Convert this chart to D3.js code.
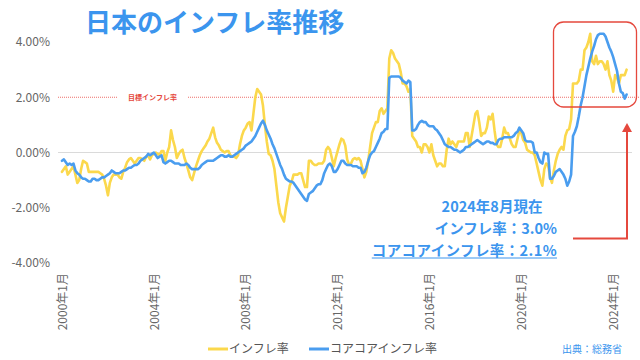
<!DOCTYPE html>
<html><head><meta charset="utf-8">
<script src="https://cdn.jsdelivr.net/npm/d3@7"></script>
<style>
html,body{margin:0;padding:0;background:#fff;}
svg{display:block;font-family:"Noto Sans CJK JP","Noto Sans",sans-serif;}
</style></head><body>
<svg id="chart" width="640" height="360"></svg>
<script>
// ---------- data ----------
const title = "日本のインフレ率推移";
const seriesNames = ["インフレ率", "コアコアインフレ率"];
const seriesColors = ["#FBD84C", "#4A9DEF"];
const startYear = 2000;
const monthCount = 296; // 2000年1月 〜 2024年8月
const categories = d3.range(monthCount).map(i =>
  `${startYear + Math.floor(i / 12)}-${String(i % 12 + 1).padStart(2, "0")}`);

// 総合 (headline), one row per year
const headline = [
  -0.7,-0.6,-0.5,-0.8,-0.7,-0.6,-0.5,-0.8,-1.1,-1.0,-0.6,-0.3,      // 2000
  -0.35,-0.4,-0.7,-0.7,-0.7,-0.7,-0.7,-0.7,-0.75,-0.8,-0.95,-1.2,   // 2001
  -1.55,-1.1,-0.9,-0.8,-0.8,-0.8,-0.9,-0.95,-0.7,-0.55,-0.35,-0.25, // 2002
  -0.2,-0.3,-0.4,-0.3,-0.2,-0.2,-0.25,-0.3,-0.15,-0.1,-0.25,-0.1,   // 2003
  -0.05,0.0,-0.05,-0.1,0.05,0.05,-0.3,0.0,0.2,0.8,0.45,0.2,         // 2004
  -0.2,-0.05,0.05,0.1,-0.2,-0.4,-0.65,-0.9,-1.0,-0.75,-0.5,-0.3,    // 2005
  -0.1,0.05,0.15,0.25,0.4,0.5,0.7,0.9,0.55,0.35,0.25,0.1,           // 2006
  0.05,0.0,0.05,0.05,-0.1,-0.15,-0.15,-0.2,-0.1,0.3,0.6,0.8,        // 2007
  0.9,1.05,1.1,0.8,1.4,2.0,2.3,2.2,2.1,1.7,1.0,0.4,                 // 2008
  -0.05,-0.1,-0.3,-0.6,-1.2,-1.8,-2.2,-2.35,-2.5,-2.0,-1.6,-1.2,    // 2009
  -1.05,-0.8,-0.8,-0.8,-0.75,-0.75,-1.0,-1.25,-1.25,-0.3,-0.3,-0.4, // 2010
  -0.45,-0.45,-0.4,-0.4,-0.4,-0.3,0.1,0.2,0.1,-0.2,-0.5,-0.2,       // 2011
  0.05,0.3,0.5,0.45,0.25,-0.25,-0.45,-0.4,-0.25,-0.2,-0.25,-0.2,    // 2012
  -0.3,-0.6,-0.9,-0.7,-0.3,0.2,0.7,0.9,1.1,1.1,1.5,1.6,             // 2013
  1.4,1.5,1.6,3.4,3.7,3.6,3.4,3.3,3.2,2.9,2.5,2.5,                  // 2014
  2.4,2.2,2.3,0.6,0.5,0.4,0.2,0.2,0.0,0.3,0.3,0.2,                  // 2015
  0.0,0.3,-0.1,-0.3,-0.5,-0.4,-0.4,-0.5,-0.5,0.1,0.5,0.3,           // 2016
  0.4,0.3,0.2,0.4,0.4,0.4,0.4,0.7,0.7,0.2,0.6,1.0,                  // 2017
  1.4,1.5,1.1,0.6,0.7,0.7,0.9,1.3,1.2,1.4,0.8,0.3,                  // 2018
  0.2,0.2,0.5,0.9,0.7,0.7,0.5,0.3,0.2,0.2,0.5,0.8,                  // 2019
  0.7,0.45,0.35,0.1,0.05,0.0,0.0,-0.1,-0.4,-0.7,-1.0,-1.2,          // 2020
  -0.6,-0.4,-0.45,-0.9,-1.1,-0.65,-0.3,-0.05,0.1,0.2,0.1,0.6,       // 2021
  0.8,0.85,1.2,2.5,2.5,2.5,2.6,3.0,3.0,3.7,3.8,4.0,                 // 2022
  4.3,3.3,3.2,3.5,3.2,3.3,3.3,3.2,3.0,3.3,2.8,2.6,                  // 2023
  2.2,2.8,2.7,2.5,2.8,2.8,2.8,3.0                                   // 2024
];

// コアコア (core-core), one row per year
const coreCore = [
  -0.3,-0.25,-0.35,-0.45,-0.4,-0.45,-0.4,-0.65,-0.75,-0.8,-0.9,-0.95,   // 2000
  -0.95,-1.0,-1.05,-1.05,-0.95,-0.95,-1.0,-1.0,-0.95,-0.9,-0.9,-0.85,   // 2001
  -0.8,-0.75,-0.65,-0.7,-0.75,-0.75,-0.75,-0.7,-0.65,-0.65,-0.6,-0.55,  // 2002
  -0.55,-0.5,-0.45,-0.45,-0.4,-0.3,-0.25,-0.2,-0.15,-0.05,-0.1,-0.05,   // 2003
  0.0,-0.1,-0.2,-0.15,-0.1,-0.35,-0.4,-0.35,-0.3,-0.3,-0.35,-0.4,       // 2004
  -0.4,-0.4,-0.45,-0.45,-0.45,-0.4,-0.45,-0.55,-0.6,-0.6,-0.6,-0.6,     // 2005
  -0.55,-0.45,-0.4,-0.35,-0.3,-0.3,-0.3,-0.3,-0.25,-0.2,-0.15,-0.1,     // 2006
  -0.1,-0.15,-0.15,-0.1,-0.15,-0.15,-0.1,-0.05,0.0,0.05,0.1,0.15,       // 2007
  0.25,0.3,0.35,0.4,0.5,0.6,0.75,0.9,1.05,1.15,1.0,0.8,                 // 2008
  0.65,0.5,0.3,0.15,-0.05,-0.25,-0.45,-0.6,-0.8,-0.95,-1.0,-1.05,       // 2009
  -1.05,-1.1,-1.2,-1.3,-1.4,-1.5,-1.6,-1.7,-1.75,-1.5,-1.45,-1.4,       // 2010
  -1.3,-1.2,-1.15,-1.15,-1.0,-0.75,-0.6,-0.45,-0.4,-0.5,-0.7,-0.7,      // 2011
  -0.6,-0.45,-0.3,-0.3,-0.4,-0.45,-0.45,-0.45,-0.5,-0.5,-0.5,-0.55,     // 2012
  -0.55,-0.75,-0.7,-0.55,-0.3,-0.1,0.0,0.05,0.2,0.35,0.5,0.7,           // 2013
  0.75,0.85,0.85,2.7,2.75,2.75,2.75,2.75,2.75,2.7,2.6,2.55,             // 2014
  2.5,2.6,2.55,0.8,0.8,0.85,1.0,1.1,1.15,1.1,1.1,1.0,                   // 2015
  0.95,0.95,0.95,0.85,0.8,0.7,0.6,0.45,0.3,0.25,0.2,0.2,                // 2016
  0.15,0.1,0.1,0.05,0.0,0.05,0.1,0.2,0.2,0.25,0.3,0.35,                 // 2017
  0.4,0.45,0.4,0.35,0.3,0.35,0.4,0.4,0.35,0.35,0.3,0.3,                 // 2018
  0.45,0.5,0.5,0.55,0.55,0.55,0.55,0.55,0.6,0.7,0.75,0.9,               // 2019
  0.8,0.7,0.45,0.4,0.4,0.4,0.35,0.0,0.0,-0.2,-0.35,-0.4,                // 2020
  0.0,-0.05,-0.05,-0.95,-0.95,-0.85,-0.7,-0.65,-0.6,-0.7,-0.8,-0.95,    // 2021
  -1.2,-1.05,-0.8,0.6,0.75,0.95,1.3,1.7,2.0,2.4,2.8,3.1,                // 2022
  3.4,3.65,3.85,4.1,4.25,4.3,4.3,4.3,4.2,4.0,3.8,3.65,                  // 2023
  3.45,3.2,2.95,2.5,2.2,2.15,1.95,2.1                                   // 2024
];

const yTicks = [-4, -2, 0, 2, 4];
const xTickCategories = ["2000-01","2004-01","2008-01","2012-01","2016-01","2020-01","2024-01"];
const xTickLabels = ["2000年1月","2004年1月","2008年1月","2012年1月","2016年1月","2020年1月","2024年1月"];
const targetRate = 2;
const targetLabel = "目標インフレ率";
const noteLines = ["2024年8月現在", "インフレ率：3.0%", "コアコアインフレ率：2.1%"];
const sourceText = "出典：総務省";

// ---------- drawing ----------
const svg = d3.select("#chart");
const blue = "#3B95EE";
const red = "#E5483D";

const x = d3.scalePoint().domain(categories).range([62, 626.6]);
const y = d3.scaleLinear().domain([-4, 4]).range([263, 42]);

// title
svg.append("text").attr("x", 85).attr("y", 31.5)
  .attr("font-size", 26).attr("font-weight", 700).attr("fill", blue)
  .text(title);

// zero line
svg.append("line").attr("x1", 58).attr("x2", 632)
  .attr("y1", y(0)).attr("y2", y(0))
  .attr("stroke", "#DADADA").attr("stroke-width", 1);

// target line
svg.append("line").attr("x1", 58).attr("x2", 640)
  .attr("y1", y(targetRate)).attr("y2", y(targetRate))
  .attr("stroke", "#EE6F6A").attr("stroke-width", 1)
  .attr("stroke-dasharray", "1,1");
svg.append("rect").attr("x", 118).attr("y", y(targetRate) - 5)
  .attr("width", 69).attr("height", 10).attr("fill", "#fff");
svg.append("text").attr("x", 152.5).attr("y", y(targetRate))
  .attr("dy", "0.35em").attr("text-anchor", "middle")
  .attr("font-size", 7).attr("font-weight", 700).attr("fill", red)
  .text(targetLabel);

// y axis
const yAxis = svg.append("g").attr("transform", "translate(52,0)")
  .call(d3.axisLeft(y).tickValues(yTicks)
    .tickFormat(d => d.toFixed(2) + "%").tickSize(0).tickPadding(2));
yAxis.select(".domain").remove();
yAxis.selectAll("text").attr("fill", "#666").attr("font-size", 12)
  .attr("font-family", "'Noto Sans CJK JP', sans-serif");

// x axis
const xAxis = svg.append("g").attr("transform", "translate(0,270)")
  .call(d3.axisBottom(x).tickValues(xTickCategories)
    .tickFormat((d, i) => xTickLabels[i]).tickSize(0));
xAxis.select(".domain").remove();
xAxis.selectAll("text")
  .attr("transform", "rotate(-90)")
  .attr("x", -3).attr("y", 0).attr("dy", "0.35em")
  .style("text-anchor", "end")
  .attr("fill", "#666").attr("font-size", 12)
  .attr("font-family", "'Noto Sans CJK JP', sans-serif");

// lines
const line = d3.line()
  .x((d, i) => x(categories[i]))
  .y(d => y(d));
[headline, coreCore].forEach((s, k) => {
  svg.append("path").datum(s)
    .attr("d", line)
    .attr("fill", "none")
    .attr("stroke", seriesColors[k])
    .attr("stroke-width", 2.6)
    .attr("stroke-linejoin", "round")
    .attr("stroke-linecap", "round");
});

// highlight box
svg.append("rect").attr("x", 553.5).attr("y", 22).attr("width", 83)
  .attr("height", 85).attr("rx", 10).attr("ry", 10)
  .attr("fill", "none").attr("stroke", red).attr("stroke-width", 1.3);

// arrow
svg.append("path")
  .attr("d", "M573,238.5 H627 V131")
  .attr("fill", "none").attr("stroke", red).attr("stroke-width", 2);
svg.append("path")
  .attr("d", "M627,123 L622,132 L632,132 Z")
  .attr("fill", red);

// note
const note = svg.append("g").attr("font-weight", 700).attr("fill", blue).attr("font-size", 14.5);
note.append("text").attr("x", 492).attr("y", 212).attr("text-anchor", "middle").text(noteLines[0]);
note.append("text").attr("x", 557).attr("y", 234).attr("text-anchor", "end").text(noteLines[1]);
const t3 = note.append("text").attr("x", 557).attr("y", 255.5).attr("text-anchor", "end")
  .attr("letter-spacing", 0.4).text(noteLines[2]);
const bb = t3.node().getBBox();
note.append("line").attr("x1", bb.x).attr("x2", 557)
  .attr("y1", 258).attr("y2", 258).attr("stroke", blue).attr("stroke-width", 1);

// legend
const legendItems = [{x: 208}, {x: 309}];
legendItems.forEach((it, k) => {
  svg.append("line").attr("x1", it.x).attr("x2", it.x + 20)
    .attr("y1", 349).attr("y2", 349)
    .attr("stroke", seriesColors[k]).attr("stroke-width", 3);
  svg.append("text").attr("x", it.x + 21).attr("y", 349).attr("dy", "0.35em")
    .attr("font-size", 12).attr("fill", "#555").text(seriesNames[k]);
});

// source
svg.append("text").attr("x", 562).attr("y", 349).attr("dy", "0.35em")
  .attr("font-size", 10).attr("fill", blue).text(sourceText);
</script>
</body></html>
